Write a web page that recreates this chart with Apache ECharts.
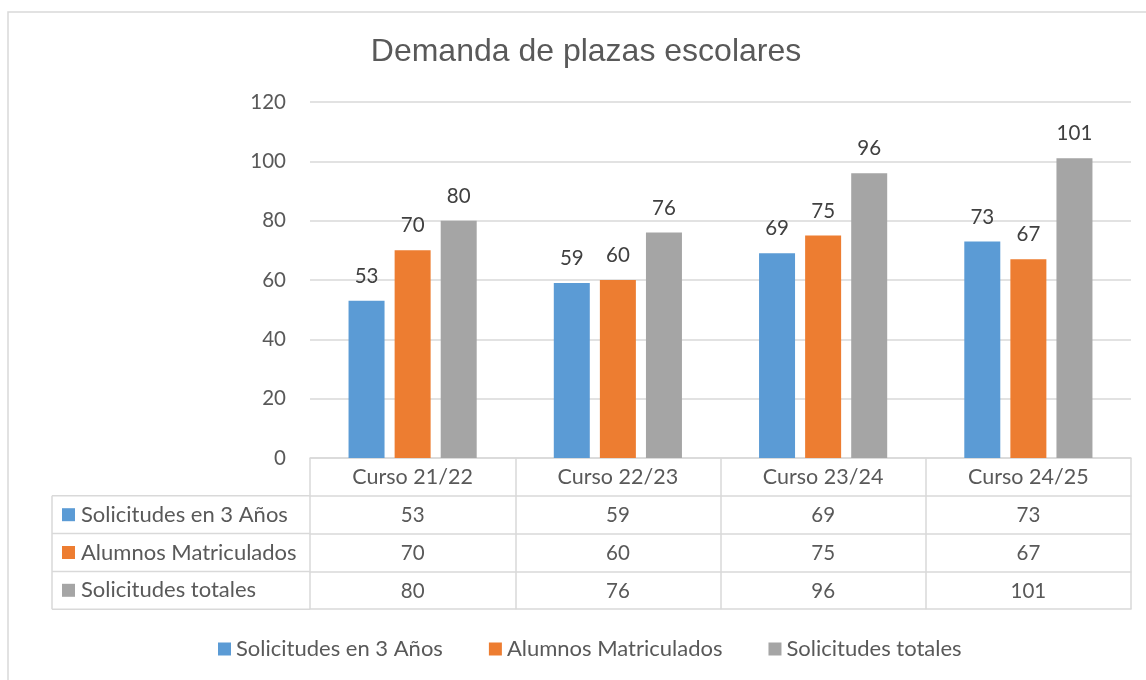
<!DOCTYPE html>
<html>
<head>
<meta charset="utf-8">
<script src="https://cdn.jsdelivr.net/npm/echarts@6/dist/echarts.min.js"></script>
<style>
html,body{margin:0;padding:0;background:#fff;}
#c{width:1146px;height:680px;}
</style>
</head>
<body>
<div id="c"></div>
<script>
const titleText = 'Demanda de plazas escolares';
const categories = ['Curso 21/22', 'Curso 22/23', 'Curso 23/24', 'Curso 24/25'];
const seriesNames = ['Solicitudes en 3 Años', 'Alumnos Matriculados', 'Solicitudes totales'];
const solicitudes3 = [53, 59, 69, 73];
const matriculados = [70, 60, 75, 67];
const totales = [80, 76, 96, 101];
const yMin = 0, yMax = 120, yStep = 20;

const colors = ['#5b9bd5', '#ed7d31', '#a5a5a5'];
const rows = [solicitudes3, matriculados, totales];
const FONT = 'Lato';
const TXT = '#595959';
const LINE = '#d9d9d9';
const GRID_LEFT = 310, GRID_RIGHT = 15, GRID_TOP = 102, GRID_BOTTOM = 222;
const ROW_H = 37.8;
const TABLE_LEFT = 52;

const chart = echarts.init(document.getElementById('c'), null, {renderer: 'canvas'});

const xAxes = [{
  type: 'category', data: categories, position: 'bottom', offset: 0,
  axisLine: {show: true, lineStyle: {color: LINE, width: 1.5}},
  axisTick: {show: true, length: ROW_H * 4, lineStyle: {color: LINE, width: 1.5}},
  axisLabel: {color: TXT, fontFamily: FONT, fontSize: 21.5, margin: 8}
}];
for (let r = 0; r < 4; r++) {
  xAxes.push({
    type: 'category', data: categories, position: 'bottom', offset: ROW_H * (r + 1),
    axisLine: {show: true, lineStyle: {color: LINE, width: 1.5}},
    axisTick: {show: false},
    axisLabel: {
      show: r < 3, color: TXT, fontFamily: FONT, fontSize: 20.5, margin: 9,
      formatter: (v, i) => r < 3 ? String(rows[r][i]) : ''
    }
  });
}

const series = seriesNames.map((name, k) => ({
  name, type: 'bar', xAxisIndex: 0, data: rows[k],
  barWidth: 36, barGap: '28%',
  itemStyle: {color: colors[k]},
  label: {show: true, position: 'top', distance: 14, color: '#404040', fontFamily: FONT, fontSize: 20.5}
}));

const graphics = [
  {type: 'rect', shape: {x: 8, y: 12, width: 1300, height: 800}, style: {fill: 'none', stroke: LINE, lineWidth: 1.5}, silent: true},
  {type: 'line', shape: {x1: TABLE_LEFT, y1: 680 - GRID_BOTTOM + ROW_H, x2: TABLE_LEFT, y2: 680 - GRID_BOTTOM + ROW_H * 4}, style: {stroke: LINE, lineWidth: 1.5}}
];
for (let r = 1; r <= 4; r++) {
  const y = 680 - GRID_BOTTOM + ROW_H * r;
  graphics.push({type: 'line', shape: {x1: TABLE_LEFT, y1: y, x2: GRID_LEFT, y2: y}, style: {stroke: LINE, lineWidth: 1.5}});
}
seriesNames.forEach((name, k) => {
  const yc = 680 - GRID_BOTTOM + ROW_H * (k + 1.5);
  graphics.push({type: 'rect', shape: {x: 62, y: yc - 6.5, width: 13, height: 13}, style: {fill: colors[k]}});
  graphics.push({type: 'text', x: 81, y: yc, style: {text: name, fill: TXT, font: '22px ' + FONT, textVerticalAlign: 'middle', verticalAlign: 'middle'}});
});

chart.setOption({
  backgroundColor: '#fff',
  animation: false,
  title: {
    text: titleText, left: 581, top: 31, textAlign: 'center',
    textStyle: {fontFamily: 'Liberation Sans', fontWeight: 'normal', fontSize: 32, color: TXT}
  },
  legend: {
    data: seriesNames, left: 213, top: 633, itemWidth: 13, itemHeight: 13, itemGap: 46,
    icon: 'rect',
    textStyle: {fontFamily: FONT, fontSize: 22, color: TXT, padding: [0, 0, 0, 0]}
  },
  grid: {left: GRID_LEFT, right: GRID_RIGHT, top: GRID_TOP, bottom: GRID_BOTTOM, containLabel: false},
  xAxis: xAxes,
  yAxis: {
    type: 'value', min: yMin, max: yMax, interval: yStep,
    axisLine: {show: false}, axisTick: {show: false},
    axisLabel: {color: TXT, fontFamily: FONT, fontSize: 20.5, margin: 24},
    splitLine: {lineStyle: {color: LINE, width: 1.5}}
  },
  series,
  graphic: graphics
});
</script>
</body>
</html>
